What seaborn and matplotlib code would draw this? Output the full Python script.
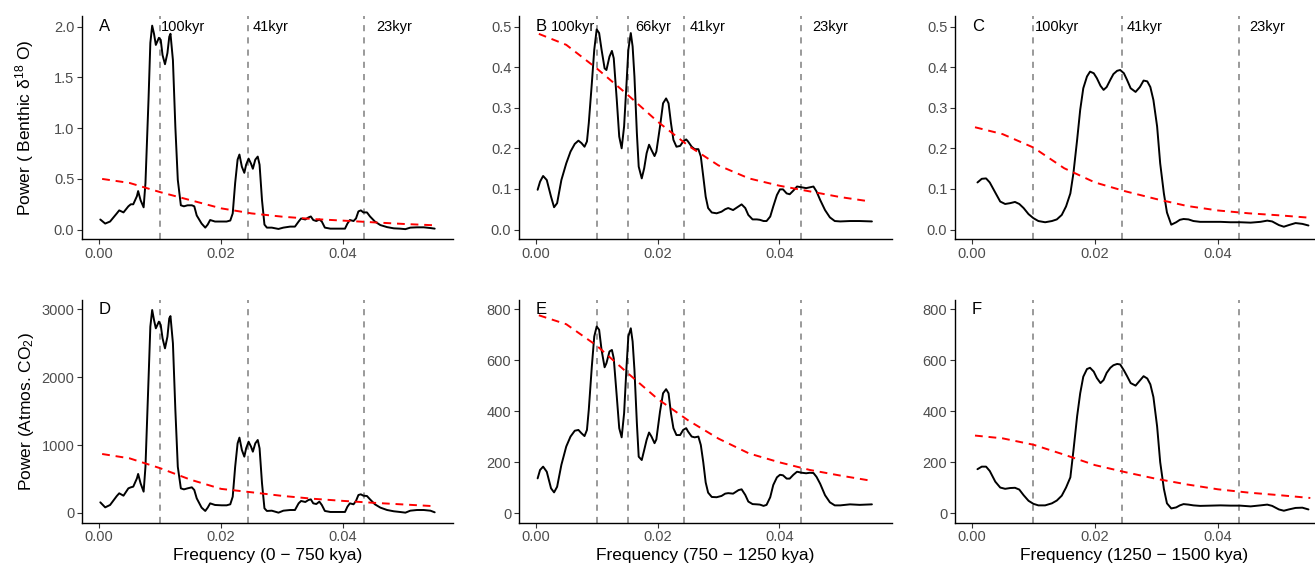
import numpy as np
import matplotlib
matplotlib.use("Agg")
import matplotlib.pyplot as plt
import seaborn as sns

# ---- data ----
periods = [100, 66, 41, 23]
period_labels = ["100kyr", "66kyr", "41kyr", "23kyr"]

freq_a = [0.0002, 0.0010, 0.0018, 0.0029, 0.0033, 0.0040, 0.0048, 0.0052, 0.0056, 0.0062,
          0.0064, 0.0068, 0.0073, 0.0076, 0.0081, 0.0084, 0.0087, 0.0090, 0.0093, 0.0098,
          0.0101, 0.0104, 0.0108, 0.0112, 0.0115, 0.0117, 0.0121, 0.0125, 0.0129, 0.0134,
          0.0139, 0.0145, 0.0152, 0.0156, 0.0160, 0.0168, 0.0174, 0.0178, 0.0182, 0.0190,
          0.0201, 0.0209, 0.0215, 0.0219, 0.0223, 0.0227, 0.0230, 0.0234, 0.0238, 0.0241,
          0.0245, 0.0249, 0.0252, 0.0256, 0.0260, 0.0263, 0.0267, 0.0271, 0.0275, 0.0283,
          0.0294, 0.0302, 0.0313, 0.0321, 0.0327, 0.0331, 0.0338, 0.0343, 0.0347, 0.0351,
          0.0356, 0.0361, 0.0365, 0.0370, 0.0379, 0.0390, 0.0403, 0.0407, 0.0411, 0.0417,
          0.0421, 0.0425, 0.0429, 0.0433, 0.0439, 0.0444, 0.0452, 0.0461, 0.0472, 0.0483,
          0.0493, 0.0502, 0.0510, 0.0521, 0.0532, 0.0543, 0.0550]
power_a = [0.10, 0.06, 0.08, 0.16, 0.19, 0.17, 0.23, 0.25, 0.25, 0.33,
           0.38, 0.29, 0.22, 0.46, 1.28, 1.84, 2.01, 1.93, 1.82, 1.89,
           1.87, 1.72, 1.63, 1.74, 1.90, 1.93, 1.67, 1.01, 0.49, 0.24,
           0.23, 0.24, 0.24, 0.23, 0.14, 0.06, 0.02, 0.05, 0.095, 0.08,
           0.08, 0.08, 0.09, 0.16, 0.46, 0.69, 0.74, 0.62, 0.56, 0.64,
           0.70, 0.65, 0.60, 0.69, 0.72, 0.64, 0.29, 0.05, 0.02, 0.02,
           0.007, 0.02, 0.03, 0.03, 0.08, 0.11, 0.10, 0.12, 0.13, 0.095,
           0.085, 0.10, 0.08, 0.02, 0.01, 0.01, 0.01, 0.06, 0.095, 0.085,
           0.11, 0.18, 0.19, 0.17, 0.17, 0.13, 0.08, 0.045, 0.025, 0.013,
           0.01, 0.005, 0.02, 0.023, 0.023, 0.016, 0.01]
power_d = [157, 83, 118, 250, 290, 255, 363, 378, 388, 510,
           575, 437, 314, 680, 1960, 2745, 2990, 2843, 2720, 2818,
           2770, 2573, 2425, 2597, 2867, 2900, 2500, 1517, 680, 363,
           348, 363, 378, 339, 216, 79, 30, 79, 142, 118,
           113, 113, 128, 240, 680, 1026, 1110, 928, 830, 953,
           1050, 977, 903, 1026, 1075, 953, 437, 69, 30, 34,
           5, 34, 44, 44, 142, 177, 162, 191, 201, 142,
           132, 167, 118, 30, 15, 15, 15, 93, 142, 128,
           177, 265, 275, 255, 250, 201, 128, 79, 44, 25,
           15, 5, 34, 44, 44, 34, 10]

freq_b = [0.0003, 0.0007, 0.0012, 0.0018, 0.0025, 0.0030, 0.0035, 0.0042, 0.0050, 0.0057,
          0.0064, 0.0070, 0.0075, 0.0080, 0.0084, 0.0087, 0.0092, 0.0096, 0.0100, 0.0104,
          0.0108, 0.0113, 0.0116, 0.0121, 0.0125, 0.0128, 0.0133, 0.0137, 0.0141, 0.0145,
          0.0149, 0.0152, 0.0156, 0.0159, 0.0162, 0.0166, 0.0169, 0.0174, 0.0178, 0.0182,
          0.0186, 0.0190, 0.0195, 0.0198, 0.0204, 0.0209, 0.0214, 0.0218, 0.0222, 0.0226,
          0.0231, 0.0237, 0.0242, 0.0247, 0.0250, 0.0256, 0.0261, 0.0267, 0.0271, 0.0275,
          0.0279, 0.0283, 0.0289, 0.0297, 0.0305, 0.0311, 0.0316, 0.0324, 0.0333, 0.0338,
          0.0344, 0.0349, 0.0356, 0.0363, 0.0368, 0.0374, 0.0379, 0.0385, 0.0390, 0.0396,
          0.0401, 0.0406, 0.0412, 0.0417, 0.0423, 0.0429, 0.0437, 0.0444, 0.0450, 0.0456,
          0.0461, 0.0467, 0.0475, 0.0483, 0.0491, 0.0500, 0.0516, 0.0532, 0.0552]
power_b = [0.098, 0.118, 0.132, 0.122, 0.081, 0.055, 0.065, 0.122, 0.163, 0.192,
           0.211, 0.219, 0.213, 0.204, 0.217, 0.262, 0.360, 0.443, 0.493, 0.484,
           0.443, 0.397, 0.393, 0.426, 0.440, 0.422, 0.319, 0.229, 0.200, 0.254,
           0.360, 0.443, 0.484, 0.451, 0.377, 0.237, 0.155, 0.126, 0.151, 0.188,
           0.209, 0.196, 0.181, 0.192, 0.254, 0.311, 0.323, 0.311, 0.262, 0.221,
           0.204, 0.206, 0.217, 0.222, 0.217, 0.204, 0.198, 0.198, 0.180, 0.131,
           0.081, 0.053, 0.042, 0.040, 0.044, 0.050, 0.053, 0.048, 0.057, 0.062,
           0.053, 0.036, 0.025, 0.025, 0.024, 0.021, 0.021, 0.032, 0.057, 0.085,
           0.099, 0.099, 0.089, 0.087, 0.096, 0.106, 0.104, 0.102, 0.104, 0.106,
           0.094, 0.073, 0.048, 0.030, 0.021, 0.020, 0.021, 0.021, 0.020]
power_e = [136, 169, 182, 162, 97, 81, 103, 189, 261, 300,
           323, 326, 313, 302, 326, 405, 575, 693, 732, 719,
           640, 572, 588, 634, 640, 607, 457, 333, 297, 391,
           575, 693, 725, 673, 562, 352, 221, 208, 247, 287,
           316, 300, 274, 289, 398, 470, 486, 470, 391, 333,
           306, 306, 326, 333, 320, 300, 297, 300, 267, 200,
           120, 80, 63, 62, 67, 76, 78, 76, 90, 93,
           71, 45, 35, 34, 33, 28, 32, 62, 110, 140,
           150, 148, 135, 135, 150, 162, 158, 156, 158, 157,
           142, 115, 70, 42, 30, 30, 34, 32, 34]

freq_c = [0.0009, 0.0016, 0.0023, 0.0029, 0.0038, 0.0046, 0.0054, 0.0062, 0.0070, 0.0077,
          0.0084, 0.0092, 0.0100, 0.0108, 0.0119, 0.0130, 0.0138, 0.0146, 0.0153, 0.0160,
          0.0165, 0.0171, 0.0176, 0.0181, 0.0187, 0.0192, 0.0198, 0.0203, 0.0209, 0.0214,
          0.0219, 0.0225, 0.0230, 0.0236, 0.0241, 0.0247, 0.0252, 0.0258, 0.0266, 0.0273,
          0.0279, 0.0285, 0.0290, 0.0295, 0.0301, 0.0306, 0.0312, 0.0317, 0.0324, 0.0332,
          0.0338, 0.0344, 0.0352, 0.0360, 0.0371, 0.0388, 0.0404, 0.0420, 0.0436, 0.0453,
          0.0469, 0.0480, 0.0488, 0.0499, 0.0507, 0.0515, 0.0526, 0.0537, 0.0547]
power_c = [0.116, 0.125, 0.126, 0.116, 0.091, 0.069, 0.063, 0.065, 0.068, 0.063,
           0.053, 0.038, 0.028, 0.021, 0.018, 0.021, 0.025, 0.036, 0.057, 0.089,
           0.139, 0.221, 0.295, 0.348, 0.377, 0.389, 0.385, 0.373, 0.354, 0.344,
           0.351, 0.369, 0.383, 0.391, 0.393, 0.385, 0.369, 0.348, 0.339, 0.351,
           0.367, 0.365, 0.351, 0.319, 0.254, 0.163, 0.089, 0.042, 0.012, 0.018,
           0.024, 0.026, 0.025, 0.021, 0.019, 0.019, 0.019, 0.018, 0.018, 0.017,
           0.019, 0.022, 0.020, 0.011, 0.007, 0.011, 0.016, 0.014, 0.010]
power_f = [172, 182, 182, 165, 123, 100, 95, 98, 99, 92,
           70, 48, 36, 30, 30, 38, 49, 68, 100, 140,
           245, 380, 470, 535, 565, 570, 555, 530, 510, 522,
           550, 570, 580, 585, 583, 560, 538, 510, 500, 520,
           537, 528, 505, 455, 340, 200, 95, 38, 18, 22,
           30, 35, 33, 30, 28, 29, 30, 29, 29, 26,
           30, 33, 28, 14, 9, 14, 20, 21, 14]

# red-noise background spectra
red_freq = [0.0005, 0.005, 0.010, 0.015, 0.020, 0.025, 0.030, 0.035, 0.040, 0.045, 0.050, 0.055]
red_a = [0.50, 0.46, 0.37, 0.29, 0.21, 0.16, 0.128, 0.105, 0.089, 0.072, 0.056, 0.043]
red_b = [0.482, 0.455, 0.397, 0.333, 0.266, 0.207, 0.158, 0.126, 0.108, 0.094, 0.080, 0.069]
red_c = [0.252, 0.235, 0.202, 0.151, 0.116, 0.094, 0.075, 0.058, 0.047, 0.040, 0.035, 0.029]
red_d = [869, 805, 660, 490, 355, 305, 252, 210, 178, 150, 125, 100]
red_e = [776, 741, 657, 551, 448, 364, 292, 234, 199, 169, 147, 127]
red_f = [304, 293, 268, 229, 188, 160, 134, 112, 93, 80, 70, 59]

ylabel_top = "Power ( Benthic δ$^{18}$ O)"
ylabel_bottom = "Power (Atmos. CO$_2$)"
xlabels = ["Frequency (0 − 750 kya)", "Frequency (750 − 1250 kya)", "Frequency (1250 − 1500 kya)"]

# ---- figure ----
sns.set_theme(style="ticks")
plt.rcParams['font.family'] = ['Liberation Sans', 'DejaVu Sans']
plt.rcParams['mathtext.fontset'] = 'custom'
plt.rcParams['mathtext.rm'] = 'Liberation Sans'
plt.rcParams['mathtext.it'] = 'Liberation Sans:italic'

fig = plt.figure(figsize=(13.15, 5.66), dpi=100)

W, H = 1315, 566
cols = [(82, 371, (-0.0028, 0.0580)), (519, 373, (-0.00276, 0.0585)), (955, 359, (-0.00275, 0.0556))]
rows = [(16, 239.3), (300, 522.7)]

panels = [
    ("A", freq_a, power_a, red_a, (-0.095, 2.105), [0, 0.5, 1.0, 1.5, 2.0], "%.1f", 2.0,
     [0, 2, 3], {"100kyr": (0.0002, "left"), "41kyr": (0.0008, "left"), "23kyr": (0.0019, "left")}),
    ("B", freq_b, power_b, red_b, (-0.024, 0.526), [0, 0.1, 0.2, 0.3, 0.4, 0.5], "%.1f", 0.5,
     [0, 1, 2, 3], {"100kyr": (-0.0002, "right"), "66kyr": (0.0011, "left"), "41kyr": (0.0009, "left"), "23kyr": (0.0020, "left")}),
    ("C", freq_c, power_c, red_c, (-0.024, 0.526), [0, 0.1, 0.2, 0.3, 0.4, 0.5], "%.1f", 0.5,
     [0, 2, 3], {"100kyr": (0.0003, "left"), "41kyr": (0.0008, "left"), "23kyr": (0.0016, "left")}),
    ("D", freq_a, power_d, red_d, (-143, 3137), [0, 1000, 2000, 3000], "%d", 3000, [0, 2, 3], None),
    ("E", freq_b, power_e, red_e, (-38, 836), [0, 200, 400, 600, 800], "%d", 800, [0, 1, 2, 3], None),
    ("F", freq_c, power_f, red_f, (-38, 836), [0, 200, 400, 600, 800], "%d", 800, [0, 2, 3], None),
]

for i, (letter, fx, fy, ry, ylim, yticks, yfmt, ytop, lines, labels) in enumerate(panels):
    r, c = divmod(i, 3)
    left, width, xlim = cols[c]
    top, bottom = rows[r]
    ax = fig.add_axes([left / W, (H - bottom) / H, width / W, (bottom - top) / H])

    for k in lines:
        ax.axvline(1 / periods[k], color="#7f7f7f", lw=1.1, ls=(0, (4, 4)), zorder=1)

    sns.lineplot(x=fx, y=fy, ax=ax, color="black", lw=1.4, sort=False, zorder=3)
    sns.lineplot(x=red_freq, y=ry, ax=ax, color="red", lw=1.4, sort=False,
                 linestyle=(0, (4, 3)), zorder=4)

    ax.text(0.0, ytop, letter, fontsize=12, ha="left", va="center", color="black", zorder=5)
    if labels:
        for k in lines:
            name = period_labels[k]
            off, ha = labels[name]
            ax.text(1 / periods[k] + off, ytop, name, fontsize=10.5, ha=ha, va="center",
                    color="black", zorder=5)

    ax.set_xlim(*xlim)
    ax.set_ylim(*ylim)
    ax.set_xticks([0.0, 0.02, 0.04])
    ax.xaxis.set_major_formatter(matplotlib.ticker.FormatStrFormatter("%.2f"))
    ax.set_yticks(yticks)
    ax.yaxis.set_major_formatter(matplotlib.ticker.FormatStrFormatter(yfmt))
    ax.tick_params(axis="both", direction="out", length=3.5, width=0.8, color="#333333",
                   labelcolor="#4D4D4D", labelsize=10.5, pad=2)
    sns.despine(ax=ax)
    for s in ("left", "bottom"):
        ax.spines[s].set_linewidth(1.0)
        ax.spines[s].set_color("black")

    if c == 0:
        ax.set_ylabel(ylabel_top if r == 0 else ylabel_bottom, fontsize=12.5, color="black")
        ax.yaxis.set_label_coords(-0.125, 0.5)
    else:
        ax.set_ylabel("")
    if r == 1:
        ax.set_xlabel(xlabels[c], fontsize=12.5, color="black")
        ax.xaxis.set_label_coords(0.5, -0.115)
    else:
        ax.set_xlabel("")

fig.savefig("out.png", dpi=100)
